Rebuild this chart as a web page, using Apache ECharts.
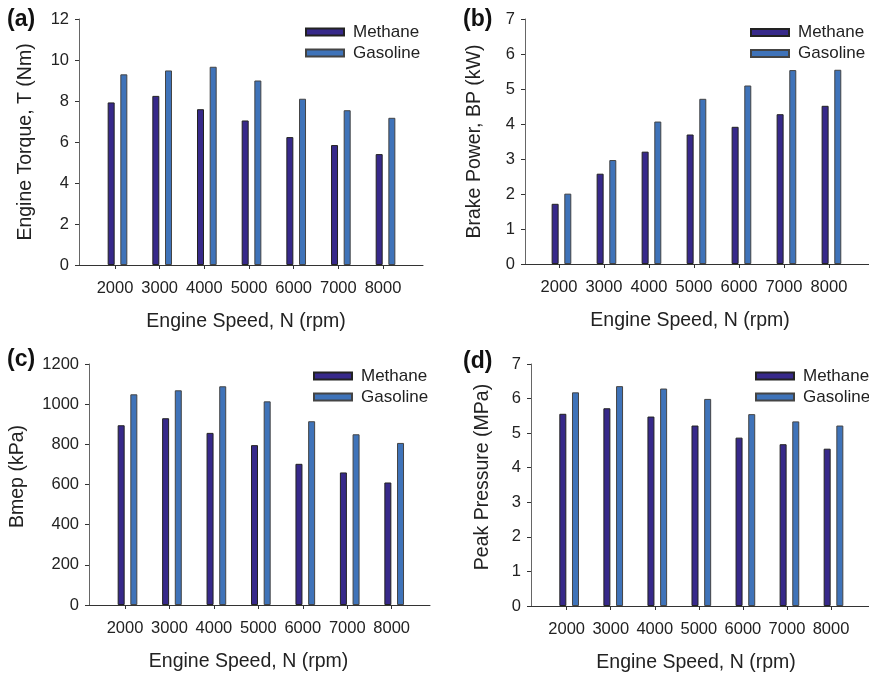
<!DOCTYPE html>
<html>
<head>
<meta charset="utf-8">
<script src="https://cdn.jsdelivr.net/npm/echarts@6/dist/echarts.min.js"></script>
<style>
html,body{margin:0;padding:0;background:#fff;}
#chart{width:869px;height:674px;}
</style>
</head>
<body>
<div id="chart"></div>
<script>
// ---- data ----
const speeds = [2000, 3000, 4000, 5000, 6000, 7000, 8000];
const seriesNames = ['Methane', 'Gasoline'];
const torqueMethane  = [7.93, 8.25, 7.60, 7.05, 6.24, 5.85, 5.41];
const torqueGasoline = [9.30, 9.49, 9.67, 9.00, 8.11, 7.55, 7.18];
const powerMethane   = [1.72, 2.58, 3.21, 3.70, 3.92, 4.28, 4.52];
const powerGasoline  = [2.01, 2.97, 4.07, 4.72, 5.10, 5.54, 5.55];
const bmepMethane    = [895, 930, 857, 796, 703, 660, 610];
const bmepGasoline   = [1049, 1069, 1089, 1014, 915, 850, 807];
const peakMethane    = [5.56, 5.72, 5.48, 5.22, 4.87, 4.68, 4.55];
const peakGasoline   = [6.18, 6.36, 6.29, 5.99, 5.55, 5.34, 5.22];
const xTitle = 'Engine Speed, N (rpm)';
const yTitles = ['Engine Torque, T (Nm)', 'Brake Power, BP (kW)', 'Bmep (kPa)', 'Peak Pressure (MPa)'];
const panelLabels = ['(a)', '(b)', '(c)', '(d)'];

// ---- layout ----
const FONT = 'Liberation Sans, Arial, Helvetica, sans-serif';
const COL_M = '#37298a';
const COL_G = '#3f73b9';
const panels = [
  {m: torqueMethane, g: torqueGasoline, grid: {left: 79, top: 19, width: 344, height: 246},
   xmin: 1194, xmax: 8895, ymin: 0, ymax: 12, yint: 2, yGap: 43, yPad: 0, xPad: 10,
   legend: {left: 305, top: 23.5}, lab: {x: 7, y: 8}},
  {m: powerMethane, g: powerGasoline, grid: {left: 525, top: 19, width: 344, height: 245},
   xmin: 1245, xmax: 8890, ymin: 0, ymax: 7, yint: 1, yGap: 40, yPad: 0, xPad: 14,
   legend: {left: 750, top: 24}, lab: {x: 463, y: 8}},
  {m: bmepMethane, g: bmepGasoline, grid: {left: 89, top: 364, width: 341, height: 241},
   xmin: 1190, xmax: 8862, ymin: 0, ymax: 1200, yint: 200, yGap: 61, yPad: 16, xPad: 22,
   legend: {left: 313, top: 367.5}, lab: {x: 7, y: 348}},
  {m: peakMethane, g: peakGasoline, grid: {left: 531, top: 364, width: 341, height: 242},
   xmin: 1190, xmax: 8862, ymin: 0, ymax: 7, yint: 1, yGap: 38, yPad: 16, xPad: 8,
   legend: {left: 755, top: 367.5}, lab: {x: 463, y: 350}}
];
const BAR_SHIFT_PX = 2.5;

const grids = [], xAxes = [], yAxes = [], series = [], legends = [], graphics = [];
panels.forEach((p, i) => {
  grids.push(Object.assign({containLabel: false}, p.grid));
  const axisFont = {fontFamily: FONT, fontSize: 16.5, color: '#222'};
  xAxes.push({
    type: 'value', gridIndex: i, min: p.xmin, max: p.xmax,
    splitLine: {show: false},
    axisLine: {lineStyle: {color: '#333', width: 1}},
    axisTick: {show: true, length: 4, customValues: speeds, lineStyle: {color: '#333'}},
    axisLabel: Object.assign({customValues: speeds, margin: 14.5, formatter: v => String(v)}, axisFont),
    name: xTitle, nameLocation: 'middle', nameGap: 47,
    nameTextStyle: {fontFamily: FONT, fontSize: 19.5, color: '#222', padding: [0, p.xPad, 0, 0]}
  });
  const range = p.xmax - p.xmin;
  const shift = BAR_SHIFT_PX / p.grid.width * range;
  xAxes.push({
    type: 'value', gridIndex: i, min: p.xmin - shift, max: p.xmax - shift, show: false,
    splitLine: {show: false}
  });
  yAxes.push({
    type: 'value', gridIndex: i, min: p.ymin, max: p.ymax, interval: p.yint,
    splitLine: {show: false},
    axisLine: {show: true, lineStyle: {color: '#666', width: 1}},
    axisTick: {show: true, length: 4, lineStyle: {color: '#333'}},
    axisLabel: Object.assign({margin: 10, formatter: v => String(v)}, axisFont),
    name: yTitles[i], nameLocation: 'middle', nameGap: p.yGap, nameRotate: 90,
    nameTextStyle: {fontFamily: FONT, fontSize: 19.5, color: '#222', padding: [0, 0, 0, p.yPad]}
  });
  [[p.m, COL_M, '#222'], [p.g, COL_G, '#444']].forEach((s, k) => {
    series.push({
      name: seriesNames[k], type: 'bar', xAxisIndex: 2 * i + 1, yAxisIndex: i,
      barWidth: 7, barGap: '81%',
      itemStyle: {color: s[1], borderColor: s[2], borderWidth: 1},
      data: speeds.map((x, j) => [x, s[0][j]]),
      emphasis: {disabled: true}, animation: false
    });
  });
  legends.push({
    data: seriesNames, orient: 'vertical', left: p.legend.left, top: p.legend.top,
    padding: 0, itemGap: 4, itemWidth: 38, itemHeight: 7, icon: 'rect',
    textStyle: {fontFamily: FONT, fontSize: 17, color: '#222', padding: [0, 0, 0, 4]}
  });
  graphics.push({
    type: 'text', left: p.lab.x, top: p.lab.y,
    style: {text: panelLabels[i], font: 'bold 23px ' + FONT, fill: '#111'}
  });
});

const chart = echarts.init(document.getElementById('chart'), null, {renderer: 'canvas'});
chart.setOption({
  animation: false,
  backgroundColor: '#fff',
  grid: grids, xAxis: xAxes, yAxis: yAxes, series: series, legend: legends,
  graphic: graphics
});
</script>
</body>
</html>
